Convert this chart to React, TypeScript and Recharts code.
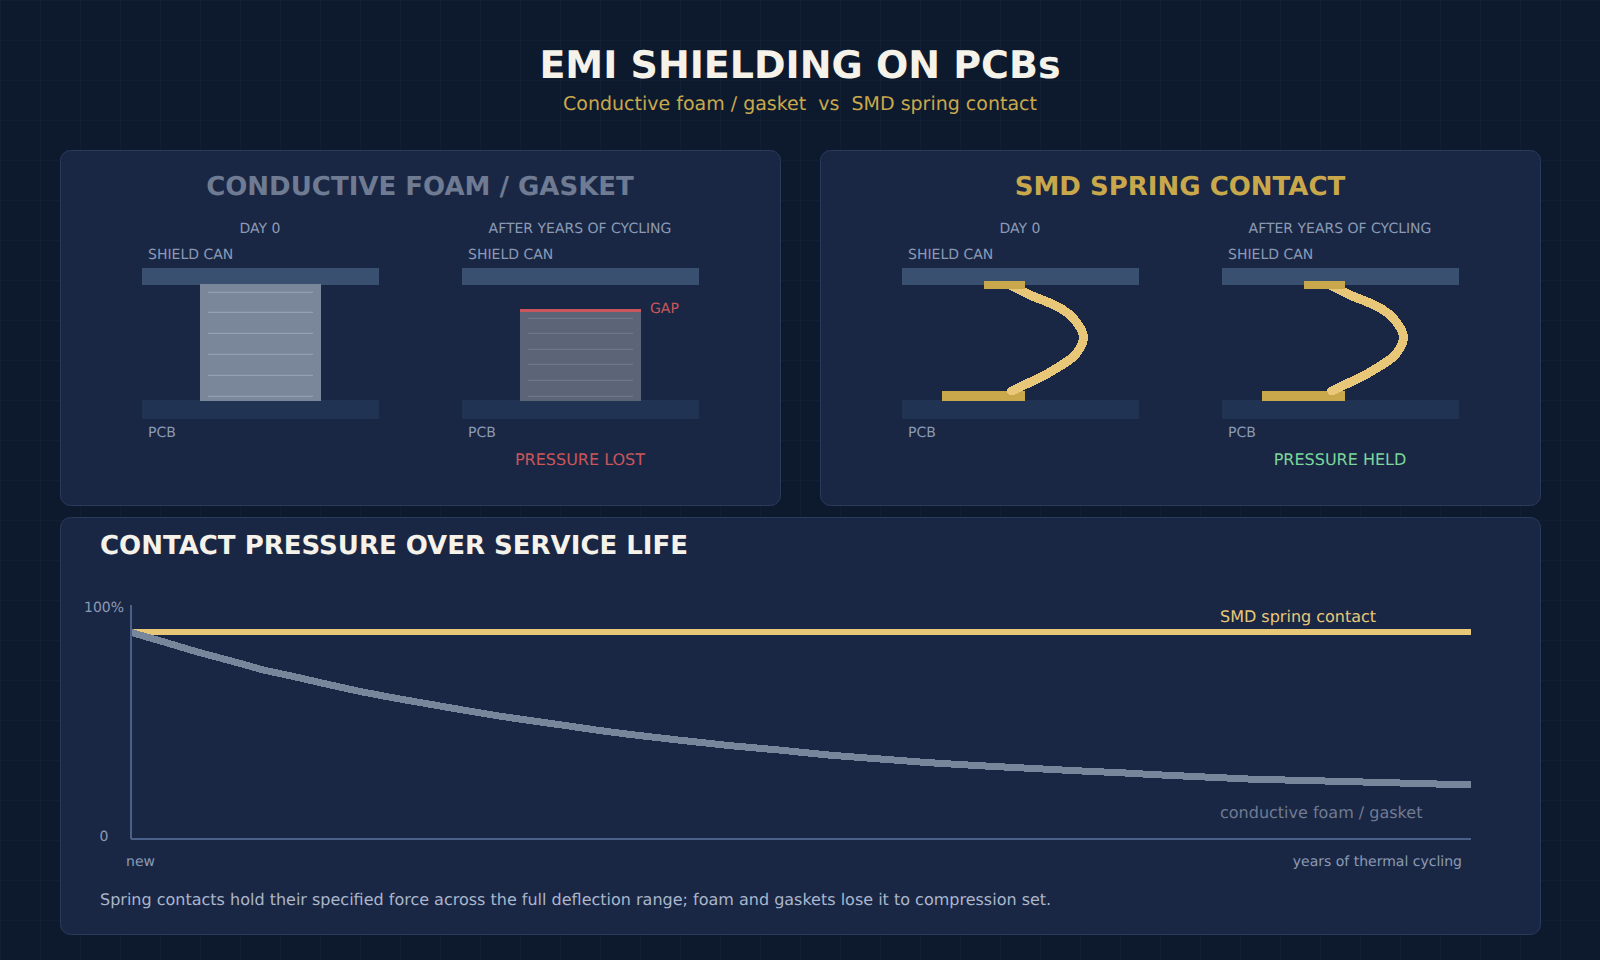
import React from "react";
import { LineChart, Line, XAxis, YAxis } from "recharts";

const FONT = "'DejaVu Sans', sans-serif";

// Service-life chart
const cyclingTime = [0, 2.4, 4.9, 7.4, 9.9, 12.4, 14.9, 17.3, 19.8, 22.3, 24.8, 27.3, 29.8, 32.3, 34.8, 37.2, 41, 44.7, 48.4, 52.2, 55.9, 59.6, 63.4, 67.1, 70.8, 74.6, 76, 83.5, 91, 100];
const foamPressure = [88.3, 84.3, 80, 76.2, 72.2, 69.1, 65.8, 62.8, 60.1, 57.6, 55.1, 52.7, 50.6, 48.6, 46.5, 44.7, 42.2, 39.9, 38, 35.8, 34.2, 32.6, 31.3, 30.2, 29.1, 28.1, 27.6, 25.6, 24.5, 23.1];
const springPressure = cyclingTime.map(() => 88.5);
const pressureRows = cyclingTime.map((t, i) => ({ t, foam: foamPressure[i], spring: springPressure[i] }));
const yTicks = [0, 100];
const yTickLabels = ["0", "100%"];
const xTicks = [0, 100];
const xTickLabels = ["new", "years of thermal cycling"];

// Spring profile
const springX = [11.7, 30, 45, 61.7, 73.3, 80.5, 83.5, 80.5, 73.3, 61.7, 45, 30, 11.7];
const springY = [15.7, 25, 31, 39, 48.3, 58.3, 67.3, 77.3, 86.7, 95, 105, 112.3, 121];
const springRows = springX.map((x, i) => ({ x, y: springY[i] }));

const foamLinesDay0 = [292.3, 312.3, 333.3, 354.3, 375.3, 396.3];
const foamLinesAfter = [318.3, 333.3, 349.3, 364.3, 380.3, 396.3];

const C = {
  bg: "#0d1a2e",
  grid: "#14233a",
  panel: "#1a2744",
  panelEdge: "#2a3a5c",
  white: "#f5f2ea",
  gold: "#c9a84c",
  goldLight: "#e8c878",
  foam: "#7a8699",
  foamLine: "#9aa6b8",
  foamOld: "#5c6577",
  foamOldLine: "#737c8d",
  shield: "#3a5070",
  pcb: "#203352",
  label: "#8a9ab5",
  grey: "#78869b",
  greyText: "#6f7b92",
  red: "#c9565a",
  green: "#7ad79a",
  axis: "#4a6088",
  note: "#a9b6cc",
};

const T = (p: any) => (
  <text fontFamily={FONT} style={{ whiteSpace: "pre" }} {...p} />
);

function Frame({ dx }: { dx: number }) {
  return (
    <g transform={`translate(${dx},0)`}>
      <T x={260} y={233} fontSize={14} fill={C.label} textAnchor="middle">DAY 0</T>
      <T x={580} y={233} fontSize={14} fill={C.label} textAnchor="middle">AFTER YEARS OF CYCLING</T>
      {[0, 320].map((o) => (
        <g key={o}>
          <T x={148 + o} y={259} fontSize={14} fill={C.label}>SHIELD CAN</T>
          <rect x={142 + o} y={268} width={237} height={17} fill={C.shield} />
          <rect x={142 + o} y={400} width={237} height={19} fill={C.pcb} />
          <T x={148 + o} y={437} fontSize={14} fill={C.label}>PCB</T>
        </g>
      ))}
    </g>
  );
}

function Panel({ x, y, w, h }: any) {
  return <rect x={x + 0.5} y={y + 0.5} width={w} height={h} rx={10} fill={C.panel} stroke={C.panelEdge} strokeWidth={1} />;
}

function YTick({ x, y, payload }: any) {
  const i = yTicks.indexOf(payload.value);
  return (
    <text x={x - 19} y={y + (i === 1 ? 7 : 2)} textAnchor="middle" fontFamily={FONT} fontSize={14} fill={C.label}>
      {yTickLabels[i]}
    </text>
  );
}

function XTick({ x, y, payload }: any) {
  const i = xTicks.indexOf(payload.value);
  return (
    <text x={i === 0 ? x + 9.5 : x - 9} y={y + 18.5} textAnchor={i === 0 ? "middle" : "end"} fontFamily={FONT} fontSize={14} fill={C.label}>
      {xTickLabels[i]}
    </text>
  );
}

function Spring({ left }: { left: number }) {
  return (
    <div style={{ position: "absolute", left, top: 270, shapeRendering: "crispEdges" } as React.CSSProperties}>
      <LineChart width={100} height={140} data={springRows} margin={{ top: 0, right: 0, bottom: 0, left: 0 }}>
        <XAxis dataKey="x" type="number" domain={[0, 100]} hide />
        <YAxis type="number" domain={[0, 140]} reversed hide />
        <Line
          dataKey="y"
          type="natural"
          stroke={C.goldLight}
          strokeWidth={9}
          strokeLinecap="round"
          dot={false}
          isAnimationActive={false}
        />
      </LineChart>
    </div>
  );
}

export default function App() {
  const abs: React.CSSProperties = { position: "absolute", left: 0, top: 0 };
  return (
    <div style={{ position: "absolute", left: 0, top: 0, width: 1600, height: 960, overflow: "hidden", background: C.bg, textRendering: "geometricPrecision" } as React.CSSProperties}>
      <svg width={1600} height={960} style={abs}>
        <defs>
          <pattern id="grid" width={40} height={40} patternUnits="userSpaceOnUse">
            <path d="M40 0H0V40" fill="none" stroke={C.grid} strokeWidth={1} />
          </pattern>
        </defs>
        <rect width={1600} height={960} fill="url(#grid)" />
        <T x={800} y={78} fontSize={38} fontWeight={700} fill={C.white} textAnchor="middle">EMI SHIELDING ON PCBs</T>
        <T x={800} y={110} fontSize={19} fill={C.gold} textAnchor="middle">{"Conductive foam / gasket  vs  SMD spring contact"}</T>

        <Panel x={60} y={150} w={720} h={355} />
        <Panel x={820} y={150} w={720} h={355} />
        <Panel x={60} y={517} w={1480} h={417} />

        <T x={420} y={195} fontSize={26} fontWeight={700} fill={C.greyText} textAnchor="middle">CONDUCTIVE FOAM / GASKET</T>
        <T x={1180} y={195} fontSize={26} fontWeight={700} fill={C.gold} textAnchor="middle">SMD SPRING CONTACT</T>

        <Frame dx={0} />
        <Frame dx={760} />

        <rect x={200} y={284} width={121} height={117} fill={C.foam} />
        {foamLinesDay0.map((y) => (
          <line key={y} x1={208} x2={313} y1={y} y2={y} stroke={C.foamLine} strokeWidth={1} />
        ))}
        <rect x={520} y={309} width={121} height={92} fill={C.foamOld} />
        <rect x={520} y={309} width={121} height={3} fill={C.red} />
        {foamLinesAfter.map((y) => (
          <line key={y} x1={528} x2={633} y1={y} y2={y} stroke={C.foamOldLine} strokeWidth={1} />
        ))}
        <T x={650} y={313} fontSize={14} fill={C.red}>GAP</T>
        <T x={580} y={465} fontSize={16} fill={C.red} textAnchor="middle">PRESSURE LOST</T>
        <T x={1340} y={465} fontSize={16} fill={C.green} textAnchor="middle">PRESSURE HELD</T>

        <rect x={942} y={391} width={83} height={10} fill={C.gold} />
        <rect x={1262} y={391} width={83} height={10} fill={C.gold} />

        <T x={100} y={554} fontSize={26} fontWeight={700} fill={C.white}>CONTACT PRESSURE OVER SERVICE LIFE</T>
        <T x={1220} y={622} fontSize={16} fill={C.goldLight}>SMD spring contact</T>
        <T x={1220} y={818} fontSize={16} fill={C.greyText}>conductive foam / gasket</T>
        <T x={100} y={905} fontSize={16} fill={C.note}>Spring contacts hold their specified force across the full deflection range; foam and gaskets lose it to compression set.</T>
      </svg>

      <div style={{ ...abs, shapeRendering: "crispEdges" } as React.CSSProperties}>
        <LineChart width={1600} height={960} data={pressureRows} margin={{ top: 605, right: 129, bottom: 120, left: 130 }}>
          <XAxis dataKey="t" type="number" domain={[0, 100]} ticks={xTicks} height={1} tickLine={false} tick={<XTick />} stroke={C.axis} strokeWidth={2} interval={0} />
          <YAxis type="number" domain={[0, 100]} ticks={yTicks} width={1} tickLine={false} tick={<YTick />} stroke={C.axis} strokeWidth={2} interval={0} />
          <Line dataKey="spring" type="linear" stroke={C.goldLight} strokeWidth={6} dot={false} isAnimationActive={false} />
          <Line dataKey="foam" type="linear" stroke={C.grey} strokeWidth={7} dot={false} isAnimationActive={false} />
        </LineChart>
      </div>

      <Spring left={1000} />
      <Spring left={1320} />

      <svg width={1600} height={960} style={{ ...abs, pointerEvents: "none" }}>
        <rect x={984} y={281} width={41} height={8} fill={C.gold} />
        <rect x={1304} y={281} width={41} height={8} fill={C.gold} />
      </svg>
    </div>
  );
}
